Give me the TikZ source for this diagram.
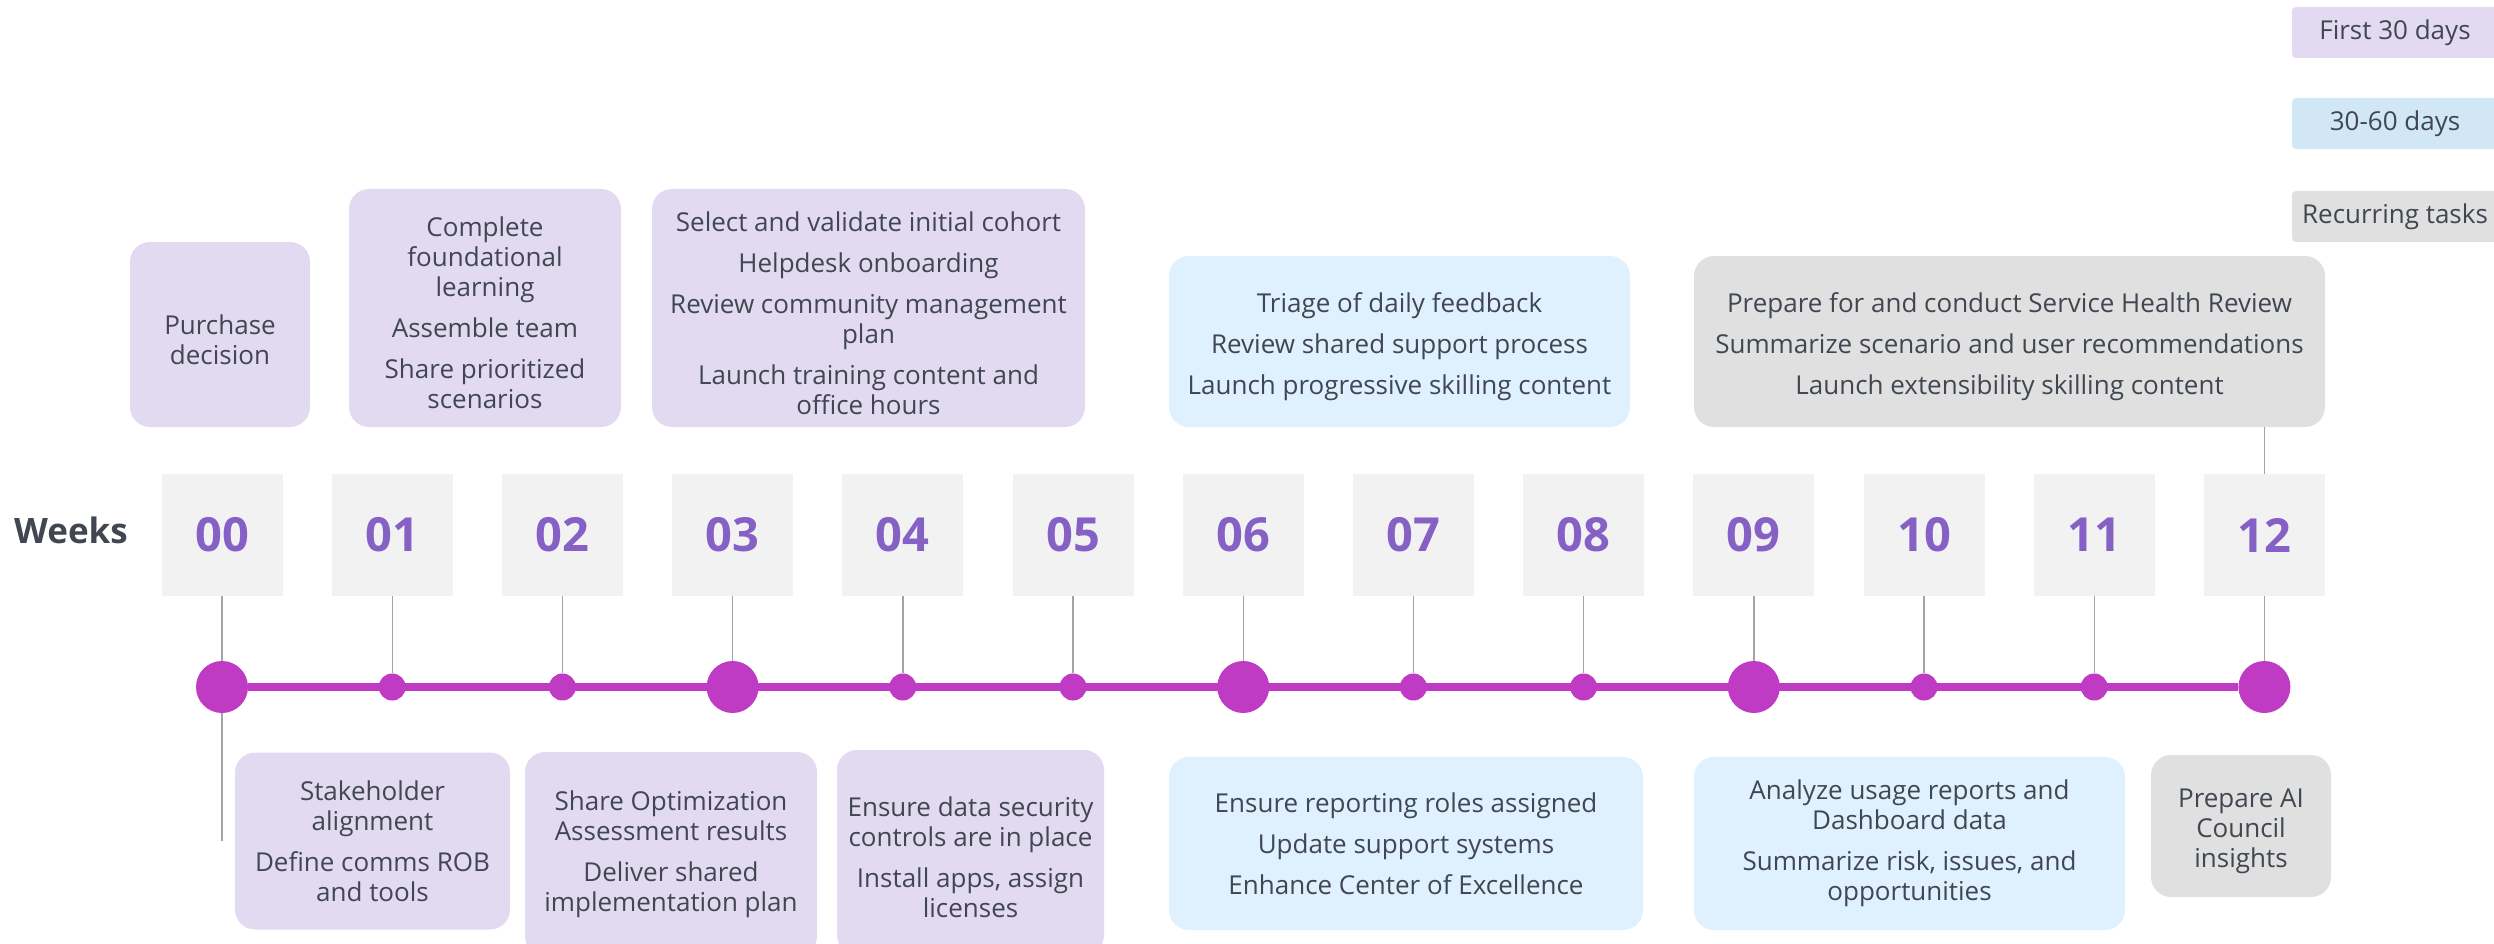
\documentclass[tikz,border=0pt]{standalone}
\usepackage{fontspec}
\setmainfont{Open Sans}
\usetikzlibrary{backgrounds}
\definecolor{InkClr}{HTML}{414750}
\definecolor{WeekClr}{HTML}{8661C5}
\definecolor{LineClr}{HTML}{C03BC4}
\definecolor{BoxClr}{HTML}{F2F2F2}
\definecolor{LilacClr}{HTML}{E2DAF1}
\definecolor{SkyClr}{HTML}{DFF0FE}
\definecolor{SkyKeyClr}{HTML}{D2E7F5}
\definecolor{GreyClr}{HTML}{E0E0E0}
\definecolor{StemClr}{HTML}{A3A3A8}

\newcommand{\taskfont}{\fontsize{26}{30}\selectfont}
% taller first line, so the text sits a bit low in its box
\newcommand{\tstrut}{\rule{0pt}{30pt}}

\begin{document}
\begin{tikzpicture}[x=1pt,y=-1pt,
  task/.style={rounded corners=20pt,align=center,text=InkClr,font=\taskfont,inner sep=0pt},
  key/.style={rounded corners=4pt,text=InkClr,font=\taskfont,minimum width=206pt,minimum height=51pt,inner sep=0pt},
  week/.style={fill=BoxClr,minimum width=121pt,minimum height=122pt,inner sep=0pt,text=WeekClr,font=\fontsize{47}{50}\selectfont\bfseries},
  stem/.style={draw=StemClr,line width=1.4pt},
  bigdot/.style={circle,fill=LineClr,minimum size=52pt,inner sep=0pt},
  dot/.style={circle,fill=LineClr,minimum size=27pt,inner sep=0pt}]
\clip (0,0) rectangle (2494,944);

% legend
\node[key,fill=LilacClr] (k1) at (2395,32.5) {First 30 days};
\node[key,fill=SkyKeyClr] (k2) at (2395,123.5) {30-60 days};
\node[key,fill=GreyClr] (k3) at (2395,216.5) {Recurring tasks};

% tasks above the weeks
\node[task,fill=LilacClr,minimum width=180pt,minimum height=185pt] (t1) at (220,334.5) {\tstrut Purchase\\decision};
\node[task,fill=LilacClr,minimum width=272pt,minimum height=238pt] (t2) at (485,308)
  {\tstrut Complete\\foundational\\learning\\[11pt]Assemble team\\[11pt]Share prioritized\\scenarios};
\node[task,fill=LilacClr,minimum width=433pt,minimum height=238pt] (t3) at (868.5,308)
  {\tstrut Select and validate initial cohort\\[11pt]Helpdesk onboarding\\[11pt]Review community management\\plan\\[11pt]Launch training content and\\office hours};
\node[task,fill=SkyClr,minimum width=461pt,minimum height=171pt] (t4) at (1399.5,341.5)
  {\tstrut Triage of daily feedback\\[11pt]Review shared support process\\[11pt]Launch progressive skilling content};
\node[task,fill=GreyClr,minimum width=631pt,minimum height=171pt] (t5) at (2009.5,341.5)
  {\tstrut Prepare for and conduct Service Health Review\\[11pt]Summarize scenario and user recommendations\\[11pt]Launch extensibility skilling content};

% weeks
\node[font=\fontsize{35}{40}\selectfont\bfseries,text=InkClr] (weeks) at (71,530) {Weeks};
\foreach \i/\n in {0/00,1/01,2/02,3/03,4/04,5/05,6/06,7/07,8/08,9/09,10/10,11/11,12/12}
  \node[week] (w\i) at ({222+170.2*\i},535) {\n};

\foreach \i in {0,3,6,9,12}
  \node[bigdot] (d\i) at (w\i |- 0,687) {};
\foreach \i in {1,2,4,5,7,8,10,11}
  \node[dot] (d\i) at (w\i |- 0,687) {};

\begin{scope}[on background layer]
\draw[LineClr,line width=7.3pt] (d0) -- (d12);
\end{scope}

\foreach \i in {0,...,12}
  \draw[stem] (w\i) -- (d\i);
\coordinate (tail) at (w0 |- 0,841);
\draw[stem] (d0) -- (tail);
\draw[stem] (t5.south -| w12) -- (w12);

% tasks below the timeline
\node[task,fill=LilacClr,minimum width=275pt,minimum height=177pt] (b1) at (372.5,841)
  {Stakeholder\\alignment\\[11pt]Define comms ROB\\and tools};
\node[task,fill=LilacClr,minimum width=292pt,minimum height=204pt] (b2) at (671,854)
  {Share Optimization\\Assessment results\\[11pt]Deliver shared\\implementation plan};
\node[task,fill=LilacClr,minimum width=267pt,minimum height=205pt] (b3) at (970.5,852.5)
  {\tstrut Ensure data security\\controls are in place\\[11pt]Install apps, assign\\licenses};
\node[task,fill=SkyClr,minimum width=474pt,minimum height=173pt] (b4) at (1406,843.5)
  {Ensure reporting roles assigned\\[11pt]Update support systems\\[11pt]Enhance Center of Excellence};
\node[task,fill=SkyClr,minimum width=431pt,minimum height=173pt] (b5) at (1909.5,843.5)
  {Analyze usage reports and\\Dashboard data\\[11pt]Summarize risk, issues, and\\opportunities};
\node[task,fill=GreyClr,minimum width=180pt,minimum height=142pt] (b6) at (2241,826)
  {\tstrut Prepare AI\\Council\\insights};

\end{tikzpicture}
\end{document}
